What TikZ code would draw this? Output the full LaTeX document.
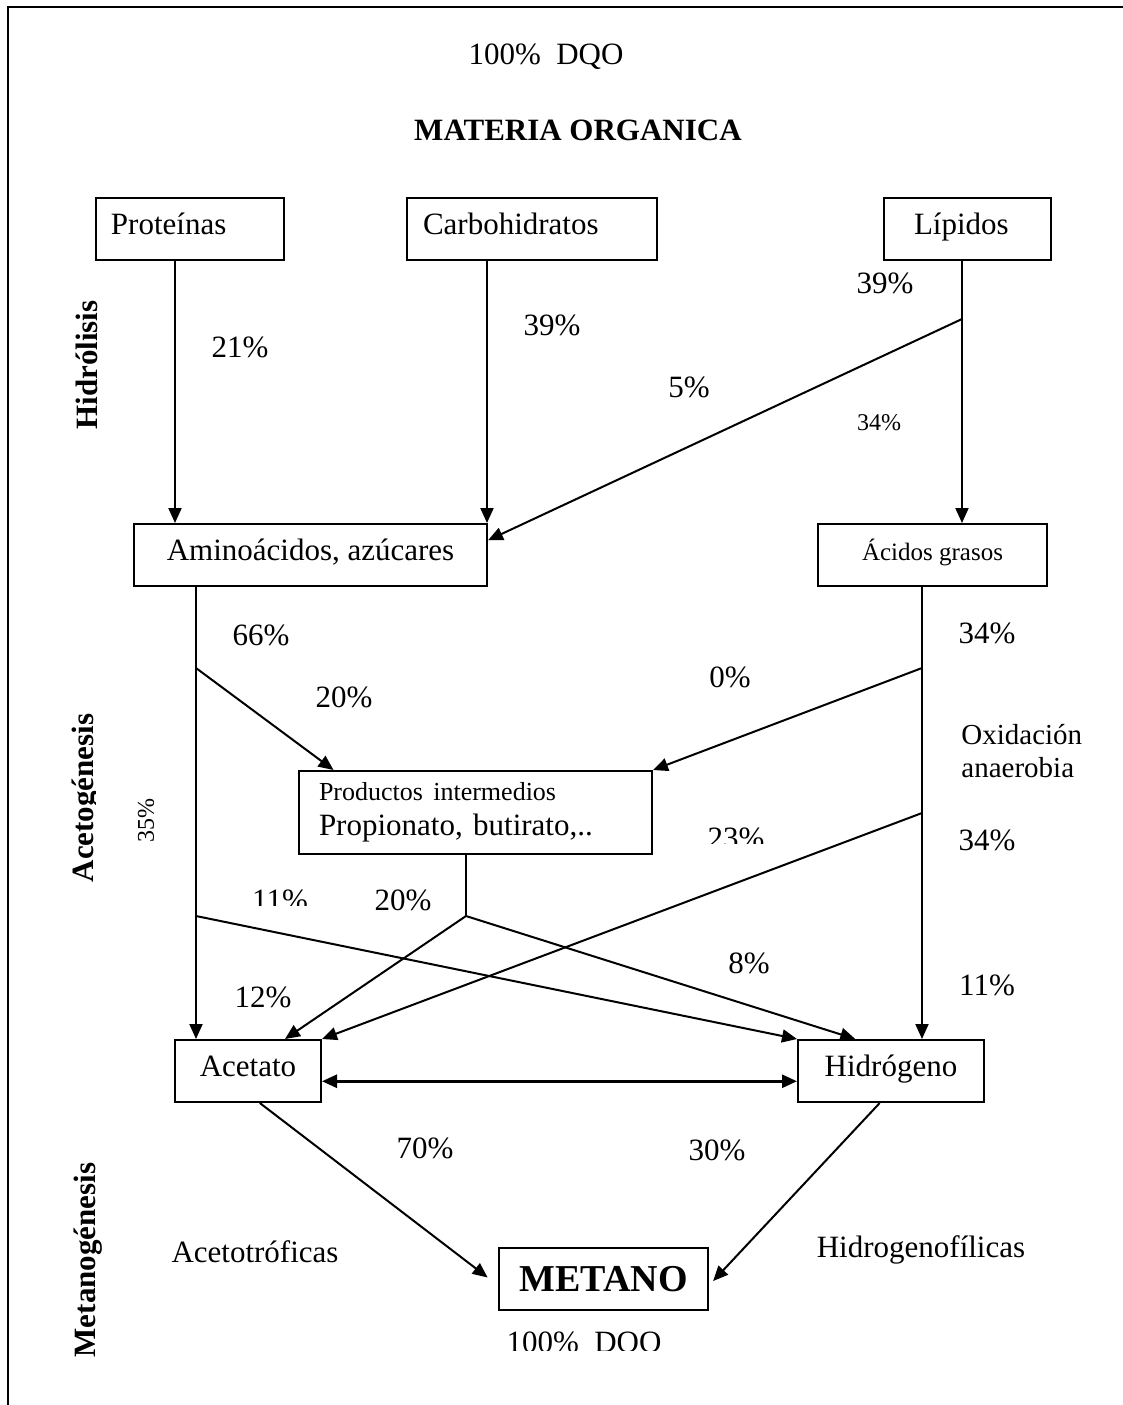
\documentclass[tikz,border=0pt]{standalone}
\usepackage{fontspec}
\setmainfont{Liberation Serif}
\usetikzlibrary{arrows.meta,calc}

\tikzset{
  box/.style={draw, line width=1pt, inner sep=0pt, minimum height=31pt, font=\fontsize{15.5}{18}\selectfont},
  one/.style={text height=10pt, text depth=4.5pt},
  lbl/.style={inner sep=0pt, font=\fontsize{15.5}{18}\selectfont},
  small/.style={inner sep=0pt, font=\fontsize{12}{14}\selectfont},
  phase/.style={inner sep=0pt, rotate=90, font=\bfseries\fontsize{15.5}{18}\selectfont},
  arr/.style={-{Triangle[length=7.5pt,width=6.5pt]}, line width=1pt},
  dbl/.style={{Triangle[length=7.5pt,width=6.5pt]}-{Triangle[length=7.5pt,width=6.5pt]}, line width=1.4pt},
  ln/.style={line width=1pt}
}

\begin{document}
\begin{tikzpicture}[x=0.5pt, y=-0.5pt]
  \useasboundingbox (0,0) rectangle (1123,1405);
  \draw[line width=0.8pt] (8,1405) -- (8,7) -- (1123,7);

  % titulos
  \node[lbl] (dqo) at (546,57) {100\%\ \ DQO};
  \node[lbl, font=\bfseries\fontsize{15.5}{18}\selectfont] (mat) at (578,130) {MATERIA ORGANICA};

  % fases
  \node[phase] (hid) at (87,365) {Hidrólisis};
  \begin{scope}
    \clip (60,700) rectangle (95,900);
    \node[phase] (ace) at (86,798) {Acetogénesis};
  \end{scope}
  \node[phase] (met) at (88,1260) {Metanogénesis};

  % cajas
  \node[box, one, anchor=north west, minimum width=94pt, text width=79pt, inner xsep=7.5pt, align=left] (prot) at (95,197) {Proteínas};
  \node[box, one, anchor=north west, minimum width=125pt, text width=109pt, inner xsep=8pt, align=left] (carb) at (406,197) {Carbohidratos};
  \node[box, one, anchor=north west, minimum width=83.5pt, text width=53.5pt, inner xsep=15pt, align=left] (lip) at (883,197) {Lípidos};
  \node[box, one, anchor=north west, minimum width=176.5pt] (amino) at (133,523) {Aminoácidos, azúcares};
  \node[box, anchor=north west, minimum width=114.5pt, font=\fontsize{12.5}{15}\selectfont, text height=8pt, text depth=3pt] (acid) at (817,523) {Ácidos grasos};
  \node[box, anchor=north west, minimum width=176.5pt, minimum height=41.5pt, text width=156.5pt, inner xsep=10pt, align=left] (prod) at (298,770)
    {{\fontsize{13}{15}\selectfont Productos intermedios}\\[-0.5pt]Propionato, butirato,..};
  \node[box, one, anchor=north west, minimum width=73pt] (acet) at (174,1039) {Acetato};
  \node[box, one, anchor=north west, minimum width=93pt] (hidr) at (797,1039) {Hidrógeno};
  \node[box, anchor=north west, minimum width=104.5pt, font=\bfseries\fontsize{19}{22}\selectfont] (meta) at (498,1247) {METANO};

  % puntos de las lineas
  \coordinate (cP) at (175,0);
  \coordinate (cC) at (487,0);
  \coordinate (cL) at (962,0);
  \coordinate (cA) at (196,0);
  \coordinate (cG) at (922,0);
  \coordinate (lb) at (962,319);
  \coordinate (ab) at (196,668);
  \coordinate (gb1) at (922,668);
  \coordinate (gb2) at (922,813);
  \coordinate (pb) at (466,916);
  \coordinate (ab2) at (196,916);

  \draw[arr] (prot.south -| cP) -- (amino.north -| cP);
  \draw[arr] (carb.south -| cC) -- (amino.north -| cC);
  \draw[arr] (lip.south -| cL) -- (acid.north -| cL);
  \draw[arr] (lb) -- ($(amino.north east)!0.27!(amino.south east)$);
  \draw[arr] (amino.south -| cA) -- (acet.north -| cA);
  \draw[arr] (ab) -- ($(prod.north west)!0.1!(prod.north east)$);
  \draw[arr] (acid.south -| cG) -- (hidr.north -| cG);
  \draw[arr] (gb1) -- (prod.north east);
  \draw[arr] (gb2) -- (acet.north east);
  \draw[ln] (prod.south -| pb) -- (pb);
  \draw[arr] (pb) -- ($(acet.north west)!0.75!(acet.north east)$);
  \draw[arr] (pb) -- ($(hidr.north west)!0.31!(hidr.north east)$);
  \draw[arr] (ab2) -- (hidr.north west);
  \draw[dbl] ($(acet.north east)!0.66!(acet.south east)$) -- ($(hidr.north west)!0.66!(hidr.south west)$);
  \draw[arr, shorten >=6.5pt] ($(acet.south west)!0.58!(acet.south east)$) -- ($(meta.north west)!0.6!(meta.south west)$);
  \draw[arr, shorten >=3pt] ($(hidr.south west)!0.44!(hidr.south east)$) -- ($(meta.north east)!0.6!(meta.south east)$);

  % porcentajes
  \node[lbl] (p21) at (240,347) {21\%};
  \node[lbl] (p39a) at (552,325) {39\%};
  \node[lbl] (p39b) at (885,283) {39\%};
  \node[lbl] (p5) at (689,387) {5\%};
  \node[small] (p34a) at (879,423) {34\%};
  \node[lbl] (p66) at (261,635) {66\%};
  \node[lbl] (p20a) at (344,697) {20\%};
  \node[lbl] (p0) at (730,677) {0\%};
  \node[lbl] (p34b) at (987,633) {34\%};
  \node[lbl, anchor=west, align=left, font=\fontsize{14.5}{16.5}\selectfont] (oxi) at (961,751) {Oxidación\\anaerobia};
  \node[lbl] (p34c) at (987,840) {34\%};
  \begin{scope}
    \clip (690,800) rectangle (790,843);
    \node[lbl] (p23) at (736,838) {23\%};
  \end{scope}
  \node[small, rotate=90] (p35) at (146,820) {35\%};
  \begin{scope}
    \clip (230,860) rectangle (330,905);
    \node[lbl] (p11a) at (280,900) {11\%};
  \end{scope}
  \node[lbl] (p20b) at (403,900) {20\%};
  \node[lbl] (p8) at (749,963) {8\%};
  \node[lbl] (p11b) at (987,985) {11\%};
  \node[lbl] (p12) at (263,997) {12\%};
  \node[lbl] (p70) at (425,1148) {70\%};
  \node[lbl] (p30) at (717,1150) {30\%};

  % metanogenicas
  \node[lbl] (acetr) at (255,1252) {Acetotróficas};
  \node[lbl] (hidro) at (921,1250) {Hidrogenofílicas};
  \begin{scope}
    \clip (480,1320) rectangle (690,1350);
    \node[lbl] (dqo2) at (584,1345) {100\%\ \ DQO};
  \end{scope}
\end{tikzpicture}
\end{document}
